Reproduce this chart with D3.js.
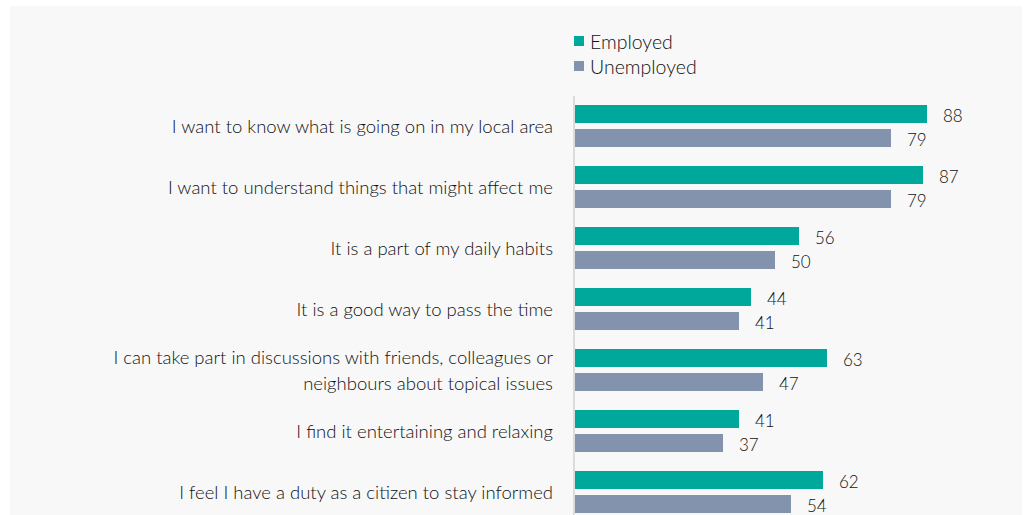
<!DOCTYPE html>
<html>
<head>
<meta charset="utf-8">
<script src="https://cdn.jsdelivr.net/npm/d3@7"></script>
<style>
  html, body { margin: 0; padding: 0; background: #ffffff; }
  svg { display: block; }
  text { font-family: Lato, "Open Sans", sans-serif; font-weight: 300; fill: #111111; }
</style>
</head>
<body>
<svg id="chart" width="1026" height="515"></svg>
<script>
// Reasons for following the news, by employment status (%)
const categories = [
  ["I want to know what is going on in my local area"],
  ["I want to understand things that might affect me"],
  ["It is a part of my daily habits"],
  ["It is a good way to pass the time"],
  ["I can take part in discussions with friends, colleagues or", "neighbours about topical issues"],
  ["I find it entertaining and relaxing"],
  ["I feel I have a duty as a citizen to stay informed"]
];
const seriesNames = ["Employed", "Unemployed"];
const employed = [88, 87, 56, 44, 63, 41, 62];
const unemployed = [79, 79, 50, 41, 47, 37, 54];
const colors = ["#00a79b", "#8393ae"];

const svg = d3.select("#chart");

// panel background
svg.append("rect")
  .attr("x", 10).attr("y", 6)
  .attr("width", 1012).attr("height", 509)
  .attr("fill", "#f8f8f8");

const x0 = 575;
const x = d3.scaleLinear().domain([0, 100]).range([x0, x0 + 400]);

const y = d3.scaleBand()
  .domain(d3.range(categories.length))
  .range([102, 102 + 61 * categories.length])
  .paddingInner(0).paddingOuter(0);

const sub = d3.scaleBand()
  .domain(seriesNames)
  .range([3, 45])
  .paddingInner(0.25);

const rows = categories.map((c, i) => ({
  label: c,
  values: [employed[i], unemployed[i]]
}));

// baseline
svg.append("line")
  .attr("x1", x0 - 1).attr("x2", x0 - 1)
  .attr("y1", 96).attr("y2", 515)
  .attr("stroke", "#dcdcdc").attr("stroke-width", 2);

const g = svg.selectAll("g.row")
  .data(rows)
  .join("g")
  .attr("class", "row")
  .attr("transform", (d, i) => `translate(0,${y(i)})`);

g.selectAll("rect.bar")
  .data(d => d.values.map((v, j) => ({ v, s: seriesNames[j], c: colors[j] })))
  .join("rect")
  .attr("class", "bar")
  .attr("x", x(0))
  .attr("y", d => sub(d.s))
  .attr("width", d => x(d.v) - x(0))
  .attr("height", sub.bandwidth())
  .attr("fill", d => d.c);

g.selectAll("text.val")
  .data(d => d.values.map((v, j) => ({ v, s: seriesNames[j] })))
  .join("text")
  .attr("class", "val")
  .attr("x", d => x(d.v) + 16)
  .attr("y", d => sub(d.s) + sub.bandwidth() / 2 + 7.5)
  .attr("font-size", 17)
  .text(d => d.v);

// category labels
g.each(function(d) {
  const n = d.label.length;
  const lineH = 26;
  const cy = 24;
  const t = d3.select(this).append("text")
    .attr("text-anchor", "end")
    .attr("font-size", 18.5);
  d.label.forEach((line, k) => {
    t.append("tspan")
      .attr("x", 553)
      .attr("y", cy + 6.5 + (k - (n - 1) / 2) * lineH)
      .text(line);
  });
});

// legend
const legend = svg.append("g").attr("transform", "translate(574,35)");
seriesNames.forEach((name, j) => {
  legend.append("rect")
    .attr("x", 0).attr("y", j * 25 + 1)
    .attr("width", 10).attr("height", 10)
    .attr("fill", colors[j]);
  legend.append("text")
    .attr("x", 16).attr("y", j * 25 + 14)
    .attr("font-size", 19.5)
    .text(name);
});
</script>
</body>
</html>
